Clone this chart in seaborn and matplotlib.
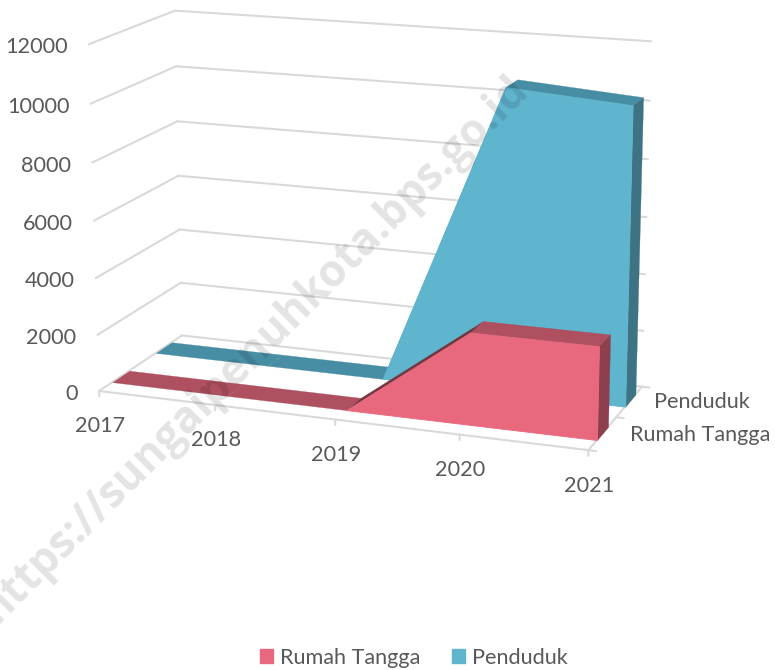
import numpy as np
import matplotlib
matplotlib.use("Agg")
import matplotlib.pyplot as plt
import seaborn as sns
from mpl_toolkits.mplot3d import proj3d
from mpl_toolkits.mplot3d.art3d import Poly3DCollection
from matplotlib.patches import Patch

years = ["2017", "2018", "2019", "2020", "2021"]
rumah_tangga = [0, 0, 0, 3160, 3160]
penduduk = [0, 0, 0, 10590, 10290]
z_ticks = [0, 2000, 4000, 6000, 8000, 10000, 12000]
depth_labels = ["Rumah Tangga", "Penduduk"]

sns.set_theme(style="white")
plt.rcParams["font.family"] = ["Lato", "DejaVu Sans"]

fig = plt.figure(figsize=(7.75, 6.7), dpi=100)
# camera fitted to the corners of the reference box
ax = fig.add_axes([42.71 / 775, 123.02 / 670, 638.93 / 775, 638.93 / 670], projection="3d")
ax.set_xlim(0, 4, view_margin=0)
ax.set_ylim(0, 1, view_margin=0)
ax.set_zlim(0, 12000, view_margin=0)
ax.set_axis_off()
ax.view_init(14.6134, -69.632, 0.0946)
ax.set_proj_type("persp", focal_length=0.7362)
ax.set_box_aspect((1, 0.3937, 0.6953))
ax.computed_zorder = False

grid_color = "#D9D9D9"
text_color = "#595959"
front_colors = {"rt": "#E8697E", "pd": "#5FB4CE"}
top_colors = {"rt": "#AE5060", "pd": "#478DA3"}
slope_colors = {"rt": "#73363F", "pd": "#5FB4CE"}
side_colors = {"rt": "#8E3F4E", "pd": "#3E7383"}

n = len(years)
for z in z_ticks:
    ax.plot([0, 0], [0, 1], [z, z], color=grid_color, lw=1.5, zorder=1)
    ax.plot([0, n - 1], [1, 1], [z, z], color=grid_color, lw=1.5, zorder=1)
ax.plot([0, n - 1], [0, 0], [0, 0], color=grid_color, lw=1.5, zorder=1)
ax.plot([n - 1, n - 1], [0, 1], [0, 0], color=grid_color, lw=1.5, zorder=1)
# tick marks on the floor edges
for i in range(n):
    ax.plot([i, i], [0, 0], [0, -190], color=grid_color, lw=1.5, zorder=1)
for y in (0, 0.5, 1):
    ax.plot([n - 1, n - 0.94], [y, y], [0, 0], color=grid_color, lw=1.5, zorder=1)


def draw_series(values, y0, y1, key, zorder):
    x = np.arange(n)
    rising = [i for i in range(n - 1) if values[i + 1] > values[i]]
    for i in range(n - 1):
        quad = [(x[i], y0, values[i]), (x[i + 1], y0, values[i + 1]), (x[i + 1], y1, values[i + 1]), (x[i], y1, values[i])]
        color = slope_colors[key] if i in rising else top_colors[key]
        ax.add_collection3d(Poly3DCollection([quad], facecolor=color, edgecolor=color, linewidth=0.2, zorder=zorder))
    # front face only where the series leaves the floor
    start = rising[0]
    front = [[(x[i], y0, values[i]) for i in range(start, n)] + [(x[-1], y0, 0)]]
    side = [[(x[-1], y0, 0), (x[-1], y0, values[-1]), (x[-1], y1, values[-1]), (x[-1], y1, 0)]]
    ax.add_collection3d(Poly3DCollection(side, facecolor=side_colors[key], edgecolor=side_colors[key], linewidth=0.2, zorder=zorder + 1))
    ax.add_collection3d(Poly3DCollection(front, facecolor=front_colors[key], edgecolor=front_colors[key], linewidth=0.6, zorder=zorder + 2))


draw_series(penduduk, 0.67, 0.87, "pd", 5)
draw_series(rumah_tangga, 0.15, 0.35, "rt", 10)

M = ax.get_proj()


def place(label, xyz, offset, ha="center"):
    px, py, _ = proj3d.proj_transform(*xyz, M)
    ax.annotate(label, (px, py), xytext=offset, textcoords="offset points", ha=ha, va="center", fontsize=15.6, color=text_color, zorder=30)


for i, year in enumerate(years):
    place(year, (i, 0, 0), (0.5, -25.5))
for z in z_ticks:
    place(str(z), (0, 0, z), (-15, -2.2), ha="right")
place(depth_labels[0], (4, 0.25, 0), (70, -1.5))
place(depth_labels[1], (4, 0.75, 0), (52.5, 0))

fig.text(0.329, 0.478, "https://sungaipenuhkota.bps.go.id", rotation=45, rotation_mode="anchor", ha="center", va="center", fontsize=31.5, fontweight="bold", color="black", alpha=0.11, family="Open Sans", zorder=40)

handles = [Patch(color=front_colors["rt"], label=depth_labels[0]), Patch(color=front_colors["pd"], label=depth_labels[1])]
fig.legend(handles=handles, loc="lower center", bbox_to_anchor=(0.534, -0.026), ncol=2, frameon=False, fontsize=15.6, labelcolor=text_color, handlelength=0.64, handleheight=0.64, handletextpad=0.32, columnspacing=1.42)

fig.savefig("out.png", dpi=100)
